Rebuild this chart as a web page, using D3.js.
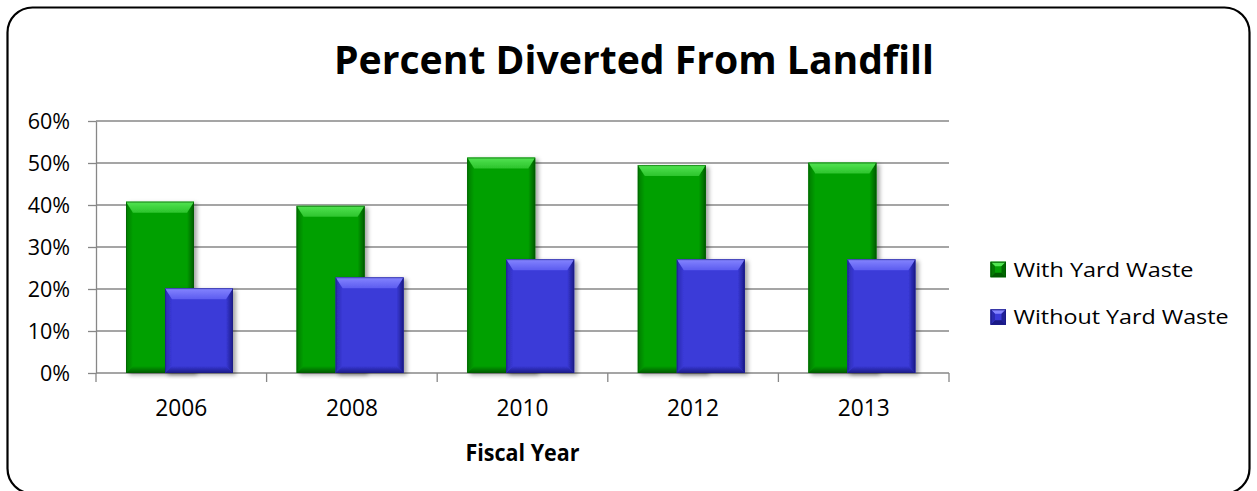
<!DOCTYPE html>
<html><head><meta charset="utf-8">
<script src="https://cdn.jsdelivr.net/npm/d3@7"></script>
<style>
body{margin:0;background:#fff}
svg{display:block}
text{font-family:"Open Sans","Noto Sans",sans-serif;fill:#000}
</style>
</head><body>
<script>
// ---- data ----
const categories = ["2006", "2008", "2010", "2012", "2013"];
const withYardWaste = [0.408, 0.398, 0.513, 0.495, 0.501];
const withoutYardWaste = [0.202, 0.228, 0.271, 0.271, 0.271];
const seriesNames = ["With Yard Waste", "Without Yard Waste"];
const yTickValues = [0, 0.1, 0.2, 0.3, 0.4, 0.5, 0.6];
const chartTitle = "Percent Diverted From Landfill";
const xAxisTitle = "Fiscal Year";

// ---- styles ----
const seriesStyle = {
  "With Yard Waste":    {body:"#04a004", light:"#52e452", mid:"#2cc42c", dark:"#005a00", edge:"#037a03"},
  "Without Yard Waste": {body:"#3a3ad8", light:"#8585ff", mid:"#5c5cf0", dark:"#1a1a86", edge:"#2b2bb0"}
};

const W = 1257, H = 491;
const svg = d3.select("body").append("svg").attr("width", W).attr("height", H);
const defs = svg.append("defs");

// drop shadow
const f = defs.append("filter").attr("id","shadow").attr("x","-20%").attr("y","-20%").attr("width","150%").attr("height","150%");
f.append("feDropShadow").attr("dx",3).attr("dy",2).attr("stdDeviation",2.2).attr("flood-color","#000").attr("flood-opacity",0.35);

seriesNames.forEach((s,i)=>{
  const st = seriesStyle[s];
  const g1 = defs.append("linearGradient").attr("id","top"+i).attr("x1",0).attr("y1",0).attr("x2",0).attr("y2",1);
  g1.append("stop").attr("offset","0%").attr("stop-color",st.light);
  g1.append("stop").attr("offset","100%").attr("stop-color",st.mid);
  const g2 = defs.append("linearGradient").attr("id","right"+i).attr("x1",0).attr("y1",0).attr("x2",1).attr("y2",0);
  g2.append("stop").attr("offset","0%").attr("stop-color",st.body);
  g2.append("stop").attr("offset","100%").attr("stop-color",st.dark);
  const g3 = defs.append("linearGradient").attr("id","left"+i).attr("x1",0).attr("y1",0).attr("x2",1).attr("y2",0);
  g3.append("stop").attr("offset","0%").attr("stop-color",st.edge);
  g3.append("stop").attr("offset","100%").attr("stop-color",st.body);
  const g4 = defs.append("linearGradient").attr("id","bottom"+i).attr("x1",0).attr("y1",0).attr("x2",0).attr("y2",1);
  g4.append("stop").attr("offset","0%").attr("stop-color",st.body);
  g4.append("stop").attr("offset","100%").attr("stop-color",st.dark);
});

// outer border
svg.append("rect").attr("x",7.5).attr("y",7.5).attr("width",1242).attr("height",486)
  .attr("rx",25).attr("ry",25).attr("fill","none").attr("stroke","#000").attr("stroke-width",2.2);

// title
svg.append("text").attr("x",634).attr("y",74).attr("text-anchor","middle")
  .attr("font-size",38.5).attr("font-weight",700)
  .attr("textLength",600).attr("lengthAdjust","spacingAndGlyphs").text(chartTitle);

const plot = {left:96, right:949, top:121, bottom:373};
const x = d3.scaleBand().domain(categories).range([plot.left, plot.right]).padding(0);
const y = d3.scaleLinear().domain([0, 0.6]).range([plot.bottom, plot.top]);
const bw = x.bandwidth();
const barW = bw * 68 / 170.6;
const sx = d3.scalePoint().domain(seriesNames).range([bw * 30 / 170.6, bw * 69 / 170.6]);

// gridlines
svg.append("g").selectAll("line").data(yTickValues.filter(v=>v>0)).join("line")
  .attr("x1",plot.left).attr("x2",plot.right)
  .attr("y1",d=>y(d)).attr("y2",d=>y(d))
  .attr("stroke","#878787").attr("stroke-width",1.3);

// y axis
const yAxis = svg.append("g").attr("transform",`translate(${plot.left},0)`)
  .call(d3.axisLeft(y).tickValues(yTickValues).tickFormat(d3.format(".0%")).tickSize(8).tickPadding(18).tickSizeOuter(0));
yAxis.select(".domain").attr("stroke","#878787").attr("stroke-width",1.3);
yAxis.selectAll(".tick line").attr("stroke","#878787").attr("stroke-width",1.3);
yAxis.selectAll(".tick text").attr("font-size",21.5).attr("font-family",'"Open Sans",sans-serif').attr("dy","0.36em").attr("fill","#000");

// x axis line & boundary ticks
svg.append("line").attr("x1",plot.left).attr("x2",plot.right).attr("y1",plot.bottom).attr("y2",plot.bottom)
  .attr("stroke","#878787").attr("stroke-width",1.3);
const bounds = categories.map(c=>x(c)).concat([x.range()[1]]);
svg.append("g").selectAll("line").data(bounds).join("line")
  .attr("x1",d=>d).attr("x2",d=>d).attr("y1",plot.bottom).attr("y2",plot.bottom+9)
  .attr("stroke","#878787").attr("stroke-width",1.3);

// bars
const seriesData = [withYardWaste, withoutYardWaste];
seriesNames.forEach((s,si)=>{
  const g = svg.append("g").attr("filter","url(#shadow)");
  categories.forEach((c,ci)=>{
    const v = seriesData[si][ci];
    const x0 = x(c) + sx(s), y0 = y(v), w = barW, h = y(0) - y(v);
    const b = 7, bt = 11;
    const st = seriesStyle[s];
    const bar = g.append("g");
    bar.append("rect").attr("x",x0).attr("y",y0).attr("width",w).attr("height",h).attr("fill",st.body);
    bar.append("polygon").attr("points",[[x0,y0],[x0+b,y0+bt],[x0+b,y0+h-b],[x0,y0+h]].join(" ")).attr("fill",`url(#left${si})`);
    bar.append("polygon").attr("points",[[x0+w,y0],[x0+w,y0+h],[x0+w-b,y0+h-b],[x0+w-b,y0+bt]].join(" ")).attr("fill",`url(#right${si})`);
    bar.append("polygon").attr("points",[[x0,y0+h],[x0+b,y0+h-b],[x0+w-b,y0+h-b],[x0+w,y0+h]].join(" ")).attr("fill",`url(#bottom${si})`);
    bar.append("polygon").attr("points",[[x0,y0],[x0+w,y0],[x0+w-b,y0+bt],[x0+b,y0+bt]].join(" ")).attr("fill",`url(#top${si})`);
    bar.append("rect").attr("x",x0+0.5).attr("y",y0+0.5).attr("width",w-1).attr("height",h-1)
      .attr("fill","none").attr("stroke",st.dark).attr("stroke-opacity",0.6).attr("stroke-width",1);
  });
});

// x labels
const xAxis = svg.append("g").attr("transform",`translate(0,${plot.bottom})`)
  .call(d3.axisBottom(x).tickSize(0).tickPadding(0));
xAxis.select(".domain").remove();
xAxis.selectAll(".tick text").attr("font-size",24.5).attr("font-family",'"Open Sans",sans-serif')
  .attr("dy",0).attr("y",43).attr("fill","#000")
  .attr("textLength",52).attr("lengthAdjust","spacingAndGlyphs");

// x axis title
svg.append("text").attr("x",(plot.left+plot.right)/2).attr("y",460.5).attr("text-anchor","middle")
  .attr("font-size",23.5).attr("font-weight",700)
  .attr("textLength",114).attr("lengthAdjust","spacingAndGlyphs").text(xAxisTitle);

// legend
const legendY = d3.scalePoint().domain(seriesNames).range([276.7, 324.3]);
const legendWidths = {"With Yard Waste":180, "Without Yard Waste":215};
seriesNames.forEach((s,si)=>{
  const st = seriesStyle[s];
  const by = legendY(s), sz = 15.5, lx = 990.5, ty = by - 15;
  const lg = svg.append("g");
  lg.append("rect").attr("x",lx).attr("y",ty).attr("width",sz).attr("height",sz).attr("fill",st.body);
  const ins = 4.5;
  lg.append("polygon").attr("points",[[lx,ty],[lx+sz,ty],[lx+sz-ins,ty+ins],[lx+ins,ty+ins]].join(" ")).attr("fill",st.light);
  lg.append("polygon").attr("points",[[lx,ty+sz],[lx+sz,ty+sz],[lx+sz-ins,ty+sz-ins],[lx+ins,ty+sz-ins]].join(" ")).attr("fill",st.dark);
  lg.append("polygon").attr("points",[[lx,ty],[lx+ins,ty+ins],[lx+ins,ty+sz-ins],[lx,ty+sz]].join(" ")).attr("fill",st.edge);
  lg.append("polygon").attr("points",[[lx+sz,ty],[lx+sz-ins,ty+ins],[lx+sz-ins,ty+sz-ins],[lx+sz,ty+sz]].join(" ")).attr("fill",st.dark).attr("opacity",0.8);
  lg.append("rect").attr("x",lx+0.5).attr("y",ty+0.5).attr("width",sz-1).attr("height",sz-1).attr("fill","none").attr("stroke",st.dark).attr("stroke-width",1);
  lg.append("text").attr("x",1013.5).attr("y",by).attr("font-size",20)
    .attr("textLength",legendWidths[s]).attr("lengthAdjust","spacingAndGlyphs").text(s);
});
</script>
</body></html>
